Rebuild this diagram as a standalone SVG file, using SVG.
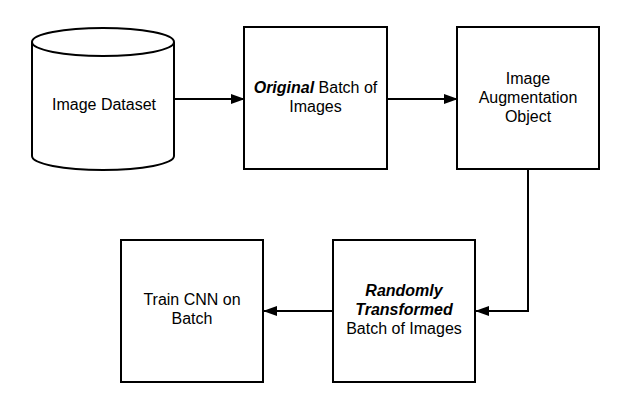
<svg xmlns="http://www.w3.org/2000/svg" width="630" height="407" viewBox="0 0 630 407">
<style>
.n{fill:#fff;stroke:#000;stroke-width:2}
.t{font-family:"Liberation Sans",Arial,sans-serif;font-size:16px;fill:#000;text-anchor:middle}
.b{font-weight:bold;font-style:italic}
.c{fill:none;stroke:#000;stroke-width:2}
</style>
<defs>
<marker id="ah" markerWidth="14" markerHeight="10" refX="13" refY="5" orient="auto" markerUnits="userSpaceOnUse">
<path d="M0,0 L14,5 L0,10 Z" fill="#000"/>
</marker>
</defs>
<rect width="630" height="407" fill="#fff"/>
<g id="connectors">
<path class="c" d="M174,99 H244" marker-end="url(#ah)"/>
<path class="c" d="M387,99 H457" marker-end="url(#ah)"/>
<path class="c" d="M528,169 V311 H476" marker-end="url(#ah)"/>
<path class="c" d="M333,311 H264" marker-end="url(#ah)"/>
</g>
<g id="image-dataset">
<path class="n" d="M32,42 A71,14 0 0 1 174,42 V156 A71,14 0 0 1 32,156 Z"/>
<path class="c" d="M32,42 A71,14 0 0 0 174,42"/>
<text class="t" x="104" y="110">Image Dataset</text>
</g>
<g id="original-batch">
<rect class="n" x="244" y="27" width="143" height="142"/>
<text class="t" x="315.5" y="93"><tspan class="b">Original</tspan> Batch of</text>
<text class="t" x="315.5" y="112">Images</text>
</g>
<g id="augmentation">
<rect class="n" x="457" y="27" width="142" height="142"/>
<text class="t" x="528" y="84">Image</text>
<text class="t" x="528" y="103">Augmentation</text>
<text class="t" x="528" y="122">Object</text>
</g>
<g id="randomly-transformed">
<rect class="n" x="333" y="240" width="142" height="142"/>
<text class="t b" x="404" y="296">Randomly</text>
<text class="t b" x="404" y="315">Transformed</text>
<text class="t" x="404" y="334">Batch of Images</text>
</g>
<g id="train-cnn">
<rect class="n" x="121" y="240" width="142" height="142"/>
<text class="t" x="192" y="305">Train CNN on</text>
<text class="t" x="192" y="324">Batch</text>
</g>
</svg>
